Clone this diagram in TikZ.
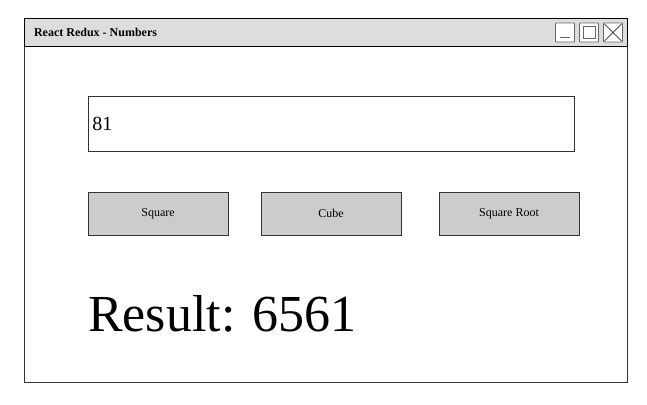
\documentclass[tikz,border=0pt]{standalone}
\usepackage{fontspec}
\setmainfont{Liberation Serif}
\definecolor{barGray}{HTML}{DDDDDD}
\definecolor{btnGray}{HTML}{CCCCCC}
\definecolor{edgeGray}{HTML}{333333}
\definecolor{iconGray}{HTML}{666666}
\begin{document}
\begin{tikzpicture}[x=1pt,y=-1pt,
    window/.style ={draw=edgeGray, thin, fill=white, minimum width=603pt, minimum height=364pt, inner sep=0pt},
    titlebar/.style ={draw=black, semithick, fill=barGray, minimum width=603pt, minimum height=28pt, inner sep=0pt},
    iconbox/.style ={draw=iconGray, thick, rounded corners=0.5pt, fill=white, minimum width=19pt, minimum height=19pt, inner sep=0pt},
    field/.style ={draw=edgeGray, thin, fill=white, minimum width=486pt, minimum height=55pt, inner sep=0pt},
    button/.style ={draw=edgeGray, thin, fill=btnGray, minimum width=140pt, minimum height=43pt, inner sep=0pt, font=\fontsize{12}{14}\selectfont}]
   \useasboundingbox (0,0) rectangle (647,404);
   \node[window] (win) at (325.5,200) {};
   \node[titlebar] (bar) at (325.5,32) {};
   \node[anchor=west, font=\bfseries\fontsize{12}{14}\selectfont] (title) at (30.5,32) {React Redux - Numbers};
   \node[iconbox] (min) at (565,32.5) {};
   \node[iconbox] (max) at (589,32.5) {};
   \node[iconbox] (close) at (613,32.5) {};
   \draw[iconGray, thick] ([xshift=5pt,yshift=5pt]min.south west) -- ([xshift=-5pt,yshift=5pt]min.south east);
   \draw[iconGray, thick] ([xshift=4pt,yshift=-4pt]max.north west) rectangle ([xshift=-4pt,yshift=4pt]max.south east);
   \draw[black, thin] ([xshift=1.5pt,yshift=-1.5pt]close.north west) -- ([xshift=-1.5pt,yshift=1.5pt]close.south east);
   \draw[black, thin] ([xshift=-1.5pt,yshift=-1.5pt]close.north east) -- ([xshift=1.5pt,yshift=1.5pt]close.south west);
   \node[field] (input) at (331,123.5) {};
   \node[anchor=west, font=\fontsize{20}{24}\selectfont] (value) at ([xshift=1pt]input.west) {81};
   \node[button] (square) at (158,213.5) {Square};
   \node[button] (cube) at (331,213.5) {Cube};
   \node[button] (root) at (509,213.5) {Square Root};
   \node[anchor=base west, inner sep=0pt, font=\fontsize{52}{60}\selectfont] (result) at (88,331) {Result: 6561};
\end{tikzpicture}
\end{document}
